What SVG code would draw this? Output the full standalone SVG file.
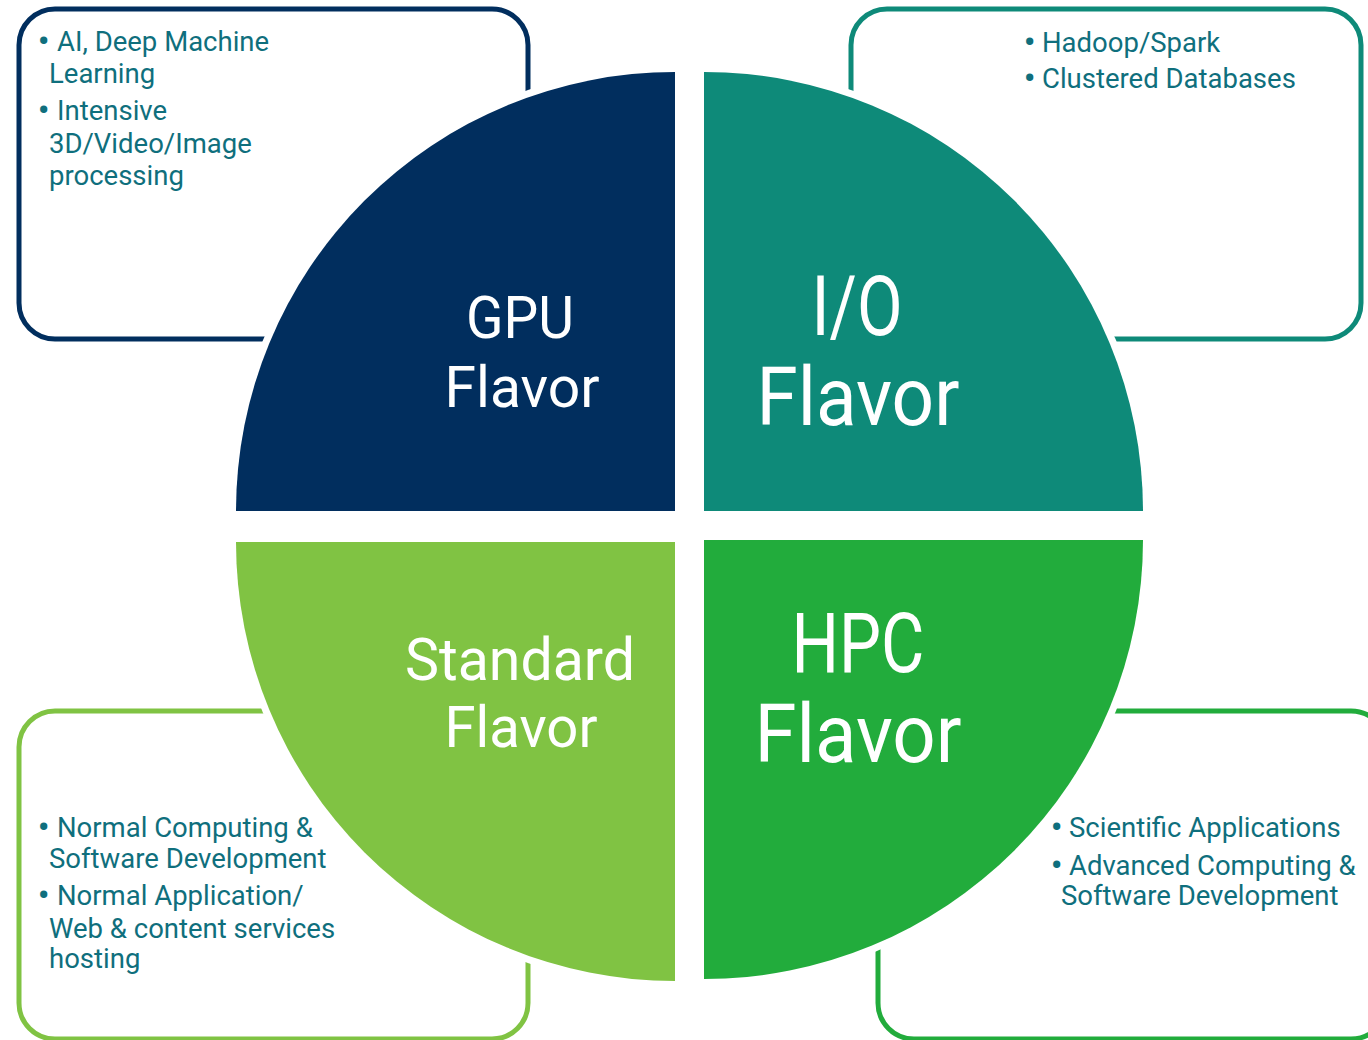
<svg xmlns="http://www.w3.org/2000/svg" width="1368" height="1040" viewBox="0 0 1368 1040">
<style>
.box{fill:#fff;stroke-width:5}
.halo{fill:#fff}
.t{font-family:Roboto,"Liberation Sans",sans-serif;font-size:27.5px;fill:#0f6f7d}
.b{font-size:31px;font-weight:bold}
.ti{font-family:Roboto,"Liberation Sans",sans-serif;fill:#fff;text-anchor:middle}
</style>
<rect width="1368" height="1040" fill="#fff"/>
<g id="box-gpu">
<rect class="box" x="19" y="9" width="509" height="330" rx="36" stroke="#012e5e"/>
<text class="t"><tspan class="b" x="38" y="52">•</tspan><tspan x="57" y="51">AI, Deep Machine</tspan><tspan x="49" y="83">Learning</tspan><tspan class="b" x="38" y="121">•</tspan><tspan x="57" y="120">Intensive</tspan><tspan x="49" y="153">3D/Video/Image</tspan><tspan x="49" y="185">processing</tspan></text>
</g>
<g id="box-io">
<rect class="box" x="851" y="9" width="510" height="330" rx="36" stroke="#0e8a79"/>
<text class="t"><tspan class="b" x="1024" y="53">•</tspan><tspan x="1042" y="52">Hadoop/Spark</tspan><tspan class="b" x="1024" y="89">•</tspan><tspan x="1042" y="88">Clustered Databases</tspan></text>
</g>
<g id="box-standard">
<rect class="box" x="19" y="711" width="509" height="328" rx="36" stroke="#80c343"/>
<text class="t"><tspan class="b" x="38" y="838">•</tspan><tspan x="57" y="837">Normal Computing &amp;</tspan><tspan x="49" y="868">Software Development</tspan><tspan class="b" x="38" y="906">•</tspan><tspan x="57" y="905">Normal Application/</tspan><tspan x="49" y="938">Web &amp; content services</tspan><tspan x="49" y="968">hosting</tspan></text>
</g>
<g id="box-hpc">
<rect class="box" x="878" y="711" width="509" height="328" rx="36" stroke="#22ac3c"/>
<text class="t"><tspan class="b" x="1051" y="838">•</tspan><tspan x="1069" y="837">Scientific Applications</tspan><tspan class="b" x="1051" y="876">•</tspan><tspan x="1069" y="875">Advanced Computing &amp;</tspan><tspan x="1061" y="905">Software Development</tspan></text>
</g>
<g id="halos">
<path class="halo" d="M675,511 L229,511 A446,446 0 0 1 675,65 Z"/>
<path class="halo" d="M704,511 L704,65 A446,446 0 0 1 1150,511 Z"/>
<path class="halo" d="M675,542 L675,988 A446,446 0 0 1 229,542 Z"/>
<path class="halo" d="M704,540 L1150,540 A446,446 0 0 1 704,986 Z"/>
</g>
<g id="gpu">
<path d="M675,511 L236,511 A439,439 0 0 1 675,72 Z" fill="#012e5e"/>
<text class="ti" font-size="59" x="520" y="338" textLength="108" lengthAdjust="spacingAndGlyphs">GPU</text>
<text class="ti" font-size="57" x="522" y="407" textLength="155" lengthAdjust="spacingAndGlyphs">Flavor</text>
</g>
<g id="io">
<path d="M704,511 L704,72 A439,439 0 0 1 1143,511 Z" fill="#0e8a79"/>
<text class="ti" font-size="84" x="857" y="335" textLength="91" lengthAdjust="spacingAndGlyphs">I/O</text>
<text class="ti" font-size="81" x="858" y="425" textLength="203" lengthAdjust="spacingAndGlyphs">Flavor</text>
</g>
<g id="standard">
<path d="M675,542 L675,981 A439,439 0 0 1 236,542 Z" fill="#80c343"/>
<text class="ti" font-size="60" x="520" y="680" textLength="230" lengthAdjust="spacingAndGlyphs">Standard</text>
<text class="ti" font-size="57" x="521" y="747" textLength="153" lengthAdjust="spacingAndGlyphs">Flavor</text>
</g>
<g id="hpc">
<path d="M704,540 L1143,540 A439,439 0 0 1 704,979 Z" fill="#22ac3c"/>
<text class="ti" font-size="83" x="858" y="672" textLength="133" lengthAdjust="spacingAndGlyphs">HPC</text>
<text class="ti" font-size="81" x="858" y="762" textLength="207" lengthAdjust="spacingAndGlyphs">Flavor</text>
</g>
<g id="connectors"></g>
</svg>
